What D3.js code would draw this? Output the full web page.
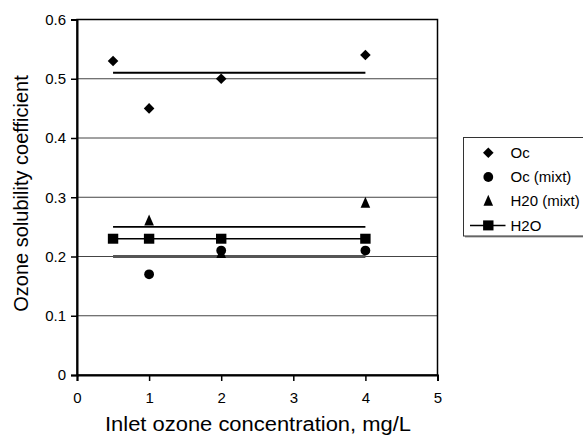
<!DOCTYPE html>
<html>
<head>
<meta charset="utf-8">
<script src="https://cdn.jsdelivr.net/npm/d3@7"></script>
<style>
  body { margin: 0; background: #fff; }
  text { font-family: "Liberation Sans", Arial, sans-serif; }
</style>
</head>
<body>
<div id="chart"></div>
<script>
'use strict';

// data
const oc = [{x: 0.5, y: 0.53}, {x: 1, y: 0.45}, {x: 2, y: 0.50}, {x: 4, y: 0.54}];
const ocMixt = [{x: 1, y: 0.17}, {x: 2, y: 0.21}, {x: 4, y: 0.21}];
const h2oMixt = [{x: 1, y: 0.26}, {x: 2, y: 0.205}, {x: 4, y: 0.29}];
const h2o = [{x: 0.5, y: 0.23}, {x: 1, y: 0.23}, {x: 2, y: 0.23}, {x: 4, y: 0.23}];
// horizontal mean lines
const meanLines = [
    {y: 0.51, color: '#000', width: 2},
    {y: 0.25, color: '#000', width: 1.6},
    {y: 0.20, color: '#555', width: 3.2}
];
const meanRange = [0.5, 4];
const xTicks = [0, 1, 2, 3, 4, 5];
const yTicks = [0, 0.1, 0.2, 0.3, 0.4, 0.5, 0.6];
const legendItems = ['Oc', 'Oc (mixt)', 'H20 (mixt)', 'H2O'];

const width = 583, height = 438;
const plot = {left: 77, right: 437.5, top: 19.5, bottom: 375};

// marker shapes, closer to the spreadsheet ones than d3's defaults
const shapes = {
    diamond: 'M0,-5.3L5.3,0L0,5.3L-5.3,0Z',
    circle: d3.symbol().type(d3.symbolCircle).size(75)(),
    triangle: 'M0,-6.5L4.8,4.5L-4.8,4.5Z',
    square: 'M-5.2,-5L5.2,-5L5.2,5L-5.2,5Z'
};
const legendShapes = [shapes.diamond, shapes.circle, shapes.triangle, shapes.square];

const svg = d3.select('#chart').append('svg')
    .attr('width', width)
    .attr('height', height);

const x = d3.scaleLinear().domain([0, 5]).range([plot.left, plot.right]);
const y = d3.scaleLinear().domain([0, 0.6]).range([plot.bottom, plot.top]);

// gridlines
svg.append('g')
    .selectAll('line')
    .data(yTicks.filter(t => t > 0 && t < 0.6))
    .enter().append('line')
    .attr('x1', plot.left).attr('x2', plot.right)
    .attr('y1', d => y(d)).attr('y2', d => y(d))
    .attr('stroke', '#444').attr('stroke-width', 1);

// plot border
svg.append('rect')
    .attr('x', plot.left).attr('y', plot.top)
    .attr('width', plot.right - plot.left).attr('height', plot.bottom - plot.top)
    .attr('fill', 'none').attr('stroke', '#000').attr('stroke-width', 1.5);

// axes
const xAxis = svg.append('g')
    .attr('transform', `translate(0,${plot.bottom})`)
    .call(d3.axisBottom(x).tickValues(xTicks).tickSize(6).tickPadding(11).tickFormat(d3.format('d')));
const yAxis = svg.append('g')
    .attr('transform', `translate(${plot.left},0)`)
    .call(d3.axisLeft(y).tickValues(yTicks).tickSize(6).tickPadding(5).tickFormat(d => d === 0 ? '0' : d3.format('.1f')(d)));
[xAxis, yAxis].forEach(a => {
    a.select('.domain').attr('stroke-width', 2);
    a.selectAll('.tick line').attr('stroke-width', 1.5);
    a.selectAll('text').attr('font-size', 15).attr('fill', '#000')
        .attr('font-family', '"Liberation Sans", Arial, sans-serif');
});

// mean lines
svg.append('g')
    .selectAll('line')
    .data(meanLines)
    .enter().append('line')
    .attr('x1', x(meanRange[0])).attr('x2', x(meanRange[1]))
    .attr('y1', d => y(d.y)).attr('y2', d => y(d.y))
    .attr('stroke', d => d.color).attr('stroke-width', d => d.width);

// H2O connected line
svg.append('path')
    .datum(h2o)
    .attr('fill', 'none').attr('stroke', '#000').attr('stroke-width', 1.5)
    .attr('d', d3.line().x(d => x(d.x)).y(d => y(d.y)));

function drawPoints(data, shape) {
    svg.append('g')
        .selectAll('path')
        .data(data)
        .enter().append('path')
        .attr('transform', d => `translate(${x(d.x)},${y(d.y)})`)
        .attr('d', shape)
        .attr('fill', '#000');
}
drawPoints(h2oMixt, shapes.triangle);
drawPoints(ocMixt, shapes.circle);
drawPoints(oc, shapes.diamond);
drawPoints(h2o, shapes.square);

// axis titles
svg.append('text')
    .attr('x', 258).attr('y', 431)
    .attr('text-anchor', 'middle').attr('font-size', 20)
    .attr('textLength', 306).attr('lengthAdjust', 'spacingAndGlyphs')
    .text('Inlet ozone concentration, mg/L');
svg.append('text')
    .attr('transform', 'translate(27.5,193.5) rotate(-90)')
    .attr('text-anchor', 'middle').attr('font-size', 20)
    .text('Ozone solubility coefficient');

// legend
const lg = svg.append('g').attr('transform', 'translate(463.5,137.5)');
lg.append('rect')
    .attr('x', 1.5).attr('y', 1.5).attr('width', 130).attr('height', 98.5)
    .attr('fill', '#999');
lg.append('rect')
    .attr('x', 0).attr('y', 0).attr('width', 130).attr('height', 98.5)
    .attr('fill', '#fff').attr('stroke', '#333').attr('stroke-width', 1);
const items = lg.selectAll('g.item')
    .data(legendItems)
    .enter().append('g')
    .attr('transform', (d, i) => `translate(0,${15.3 + i * 24.2})`);
items.filter((d, i) => i === 3).append('line')
    .attr('x1', 6.5).attr('x2', 42).attr('y1', 0).attr('y2', 0)
    .attr('stroke', '#000').attr('stroke-width', 1.5);
items.append('path')
    .attr('transform', 'translate(24.8,0)')
    .attr('d', (d, i) => legendShapes[i])
    .attr('fill', '#000');
items.append('text')
    .attr('x', 47).attr('y', 0).attr('dy', '0.35em')
    .attr('font-size', 15)
    .text(d => d);
</script>
</body>
</html>
